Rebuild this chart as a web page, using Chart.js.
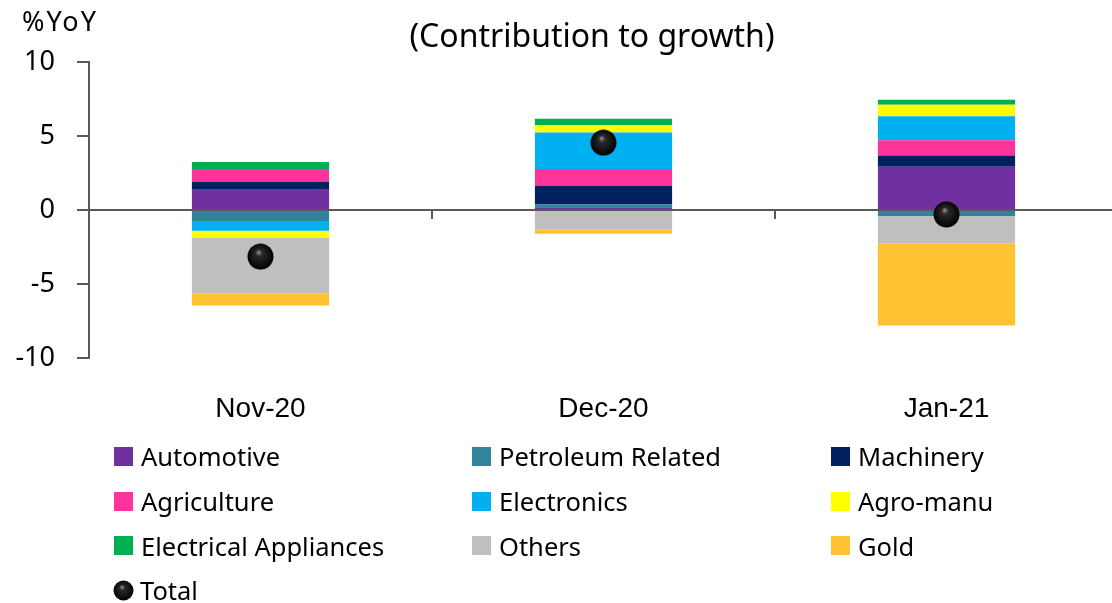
<!DOCTYPE html>
<html>
<head>
<meta charset="utf-8">
<script src="https://cdn.jsdelivr.net/npm/chart.js"></script>
<style>
  html, body { margin: 0; padding: 0; background: #fff; overflow: hidden; width: 1112px; height: 603px; }
  #wrap { position: relative; width: 1112px; height: 603px; font-family: "Noto Sans", sans-serif; color: #000; }
  #myChart { position: absolute; left: 0; top: 0; }
  .unit { position: absolute; left: 22px; top: 3px; font-size: 27px; line-height: 36px; letter-spacing: 2px; }
  .title { position: absolute; left: 342px; width: 500px; top: 13px; text-align: center; font-size: 32px; line-height: 44px; }
  #legend { position: absolute; left: 114px; top: 434px; display: grid; grid-template-columns: 358px 359px 260px; grid-auto-rows: 44.7px; }
  .item { display: flex; align-items: center; font-size: 25.5px; white-space: nowrap; }
  .box { width: 19px; height: 19px; margin-right: 8px; flex: none; }
  .item canvas { margin-right: 6px; margin-left: -1px; flex: none; }
</style>
</head>
<body>
<div id="wrap">
  <canvas id="myChart" width="1118" height="440"></canvas>
  <div class="unit">%YoY</div>
  <div class="title">(Contribution to growth)</div>
  <div id="legend"></div>
</div>
<script>
const categories = ["Nov-20", "Dec-20", "Jan-21"];
const yTicks = [-10, -5, 0, 5, 10];

const automotive = [1.42, 0.18, 2.92];
const petroleum = [-0.75, 0.2, -0.4];
const machinery = [0.47, 1.26, 0.77];
const agriculture = [0.88, 1.13, 1.02];
const electronics = [-0.66, 2.46, 1.63];
const agroManu = [-0.45, 0.5, 0.77];
const electrical = [0.47, 0.43, 0.34];
const others = [-3.76, -1.31, -1.85];
const gold = [-0.83, -0.3, -5.56];
const total = [-3.15, 4.55, -0.3];

// black glossy ball used for the Total marker
const makeBall = (size) => {
  const c = document.createElement("canvas");
  c.width = size;
  c.height = size;
  const g = c.getContext("2d");
  const r = size / 2;
  const grad = g.createRadialGradient(r - r * 0.15, r - r * 0.35, 0, r, r, r);
  grad.addColorStop(0, "#9a9a9a");
  grad.addColorStop(0.25, "#2a2a2a");
  grad.addColorStop(1, "#000000");
  g.fillStyle = grad;
  g.beginPath();
  g.arc(r, r, r - 0.5, 0, Math.PI * 2);
  g.fill();
  return c;
};

const bar = (label, data, color) => ({
  type: "bar",
  label: label,
  data: data,
  backgroundColor: color,
  borderWidth: 0,
  stack: "parts",
  order: 1,
  barPercentage: 0.4,
  categoryPercentage: 1,
});

const axisColor = "#595959";

const ctx = document.getElementById("myChart").getContext("2d");
const myChart = new Chart(ctx, {
  data: {
    labels: categories,
    datasets: [
      bar("Automotive", automotive, "#7030A0"),
      bar("Petroleum Related", petroleum, "#31849B"),
      bar("Machinery", machinery, "#002060"),
      bar("Agriculture", agriculture, "#FF3399"),
      bar("Electronics", electronics, "#00B0F0"),
      bar("Agro-manu", agroManu, "#FFFF00"),
      bar("Electrical Appliances", electrical, "#00B050"),
      bar("Others", others, "#BFBFBF"),
      bar("Gold", gold, "#FEC232"),
      {
        type: "line",
        label: "Total",
        data: total,
        showLine: false,
        pointStyle: makeBall(27),
        pointRadius: 13,
        stack: "total",
        order: 0,
      },
    ],
  },
  options: {
    responsive: false,
    animation: false,
    layout: { autoPadding: false, padding: { top: 62, left: 0, right: 0, bottom: 0 } },
    plugins: {
      legend: { display: false },
      title: { display: false },
      tooltip: { enabled: false },
    },
    scales: {
      x: {
        stacked: true,
        // invisible tick marks just push the labels down
        grid: { display: false, drawTicks: true, tickLength: 32 },
        border: { display: false },
        ticks: {
          color: "#000",
          padding: 2,
          font: { family: "Liberation Sans", size: 28 },
        },
        afterFit: (scale) => {
          scale.height = 82;
        },
      },
      x2: {
        type: "category",
        position: { y: 0 },
        offset: true,
        grid: {
          offset: true,
          drawOnChartArea: false,
          drawTicks: true,
          tickLength: 8,
          color: axisColor,
          lineWidth: 2,
        },
        border: { display: true, color: axisColor, width: 2 },
        ticks: { display: false },
      },
      y: {
        stacked: true,
        min: -10,
        max: 10,
        afterBuildTicks: (scale) => {
          scale.ticks = yTicks.map((v) => ({ value: v }));
        },
        grid: {
          drawOnChartArea: false,
          tickLength: 12,
          color: axisColor,
          lineWidth: 2,
        },
        border: { display: true, color: axisColor, width: 2 },
        ticks: {
          color: "#000",
          padding: 22,
          font: { family: "Noto Sans", size: 27 },
        },
        afterFit: (scale) => {
          scale.width = 89;
        },
      },
    },
  },
});

// legend built from the chart datasets, three columns like the original
const legendEl = document.getElementById("legend");
myChart.data.datasets.forEach((ds) => {
  const item = document.createElement("div");
  item.className = "item";
  if (ds.type === "line") {
    item.appendChild(makeBall(21));
  } else {
    const box = document.createElement("span");
    box.className = "box";
    box.style.background = ds.backgroundColor;
    item.appendChild(box);
  }
  const txt = document.createElement("span");
  txt.textContent = ds.label;
  item.appendChild(txt);
  legendEl.appendChild(item);
});
</script>
</body>
</html>
